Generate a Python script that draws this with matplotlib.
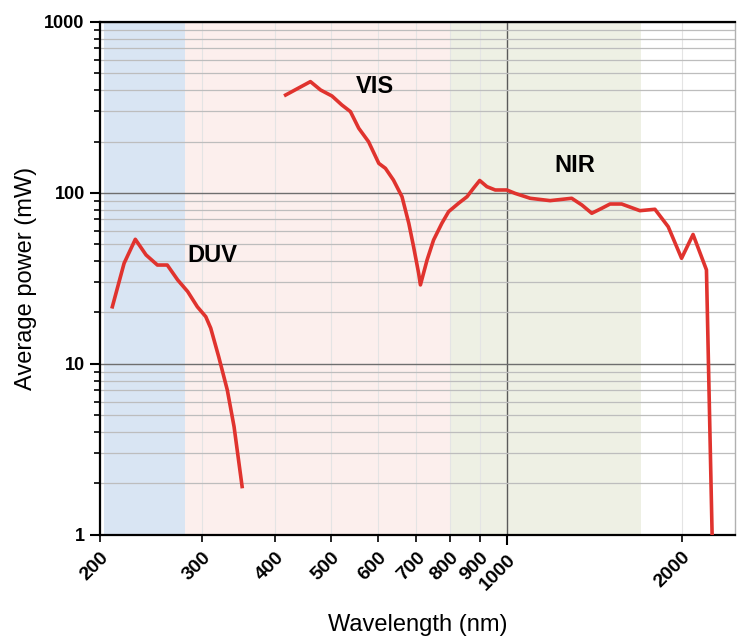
import matplotlib
matplotlib.use('Agg')
import matplotlib.pyplot as plt
from matplotlib.ticker import LogLocator, FuncFormatter, NullFormatter

# Donnees
duv_wl = [210, 220, 230, 240, 251, 261, 272, 283, 294, 304, 310, 320, 331, 340, 351]
duv_p = [21.6, 38.8, 53.6, 43.4, 37.9, 37.9, 31.0, 26.5, 21.6, 18.9, 16.2, 11.0, 7.05, 4.3, 1.92]

vis_nir_wl = [417, 460, 479, 501, 521, 539, 557, 579, 603, 619, 639, 661, 679, 692,
              706, 711, 730, 749, 774, 795, 827, 855, 877, 899, 925, 956, 1001, 1034,
              1098, 1188, 1294, 1347, 1401, 1458, 1506, 1577, 1695, 1799, 1896, 1999,
              2092, 2206, 2256]
vis_nir_p = [374, 448, 400, 369, 327, 299, 239, 199.5, 149, 139.4, 119, 95.1, 66.5, 48.5,
             33.9, 29.0, 40.6, 53.1, 66.5, 77.8, 87.1, 95.1, 106.5, 118.3, 108.9, 104.1, 104.1, 99.5,
             93.1, 90.2, 93.1, 85.1, 76.1, 81.4, 86.2, 86.2, 78.8, 80.3, 63.5, 41.5,
             57.2, 35.5, 1.0]

# Bandes spectrales (debut, fin, couleur)
bandes = [(203, 280, '#d9e5f3'), (280, 800, '#fcefed'), (800, 1700, '#eef0e4')]

# Etiquettes des regions
regions = ['DUV', 'VIS', 'NIR']
regions_wl = [312, 594, 1311]
regions_p = [42.8, 422, 144]

plt.rcParams['font.family'] = ['Liberation Sans', 'DejaVu Sans']

fig = plt.figure(figsize=(7.37, 6.39), dpi=100)
ax = fig.add_axes([0.1357, 0.1628, 0.8616, 0.8028])

# Fonds colores
for debut, fin, couleur in bandes:
    ax.axvspan(debut, fin, color=couleur, lw=0, zorder=0.2)

# Courbes
ax.plot(duv_wl, duv_p, color='#e0332e', lw=2.6, zorder=3)
ax.plot(vis_nir_wl, vis_nir_p, color='#e0332e', lw=2.6, zorder=3)

for nom, x, y in zip(regions, regions_wl, regions_p):
    ax.text(x, y, nom, fontsize=17, fontweight='bold', ha='center', va='center')

# Axes
ax.set_xscale('log')
ax.set_yscale('log')
ax.set_xlim(200, 2470)
ax.set_ylim(1, 1000)

ax.xaxis.set_major_locator(LogLocator(base=10))
ax.xaxis.set_minor_locator(LogLocator(base=10, subs=range(2, 10)))
fmt = FuncFormatter(lambda v, p: f'{v:.0f}')
ax.xaxis.set_major_formatter(fmt)
ax.xaxis.set_minor_formatter(fmt)
ax.yaxis.set_major_locator(LogLocator(base=10))
ax.yaxis.set_minor_locator(LogLocator(base=10, subs=range(2, 10)))
ax.yaxis.set_major_formatter(fmt)
ax.yaxis.set_minor_formatter(NullFormatter())

# Grilles
ax.set_axisbelow(True)
ax.grid(True, which='major', axis='y', color='#6e6e6e', lw=1.0)
ax.grid(True, which='minor', axis='y', color='#bdbdbd', lw=0.9)
ax.grid(True, which='major', axis='x', color='#5a5a5a', lw=1.0)
ax.grid(True, which='minor', axis='x', color='#e4e4e4', lw=0.8)

ax.tick_params(axis='y', which='major', direction='out', length=7, width=1.5,
               labelsize=13, pad=4)
ax.tick_params(axis='x', which='major', direction='out', length=7, width=1.5,
               labelsize=14, pad=5)
ax.tick_params(axis='y', which='minor', direction='out', length=4, width=1.2)
ax.tick_params(axis='x', which='minor', direction='out', length=5, width=1.2,
               labelsize=14, pad=5)

for lab in ax.get_xticklabels(which='both') + ax.get_yticklabels():
    lab.set_fontweight('bold')
for lab in ax.get_xticklabels(which='both'):
    lab.set_rotation(45)
    lab.set_ha('right')
    lab.set_rotation_mode('anchor')

for cote in ['left', 'bottom', 'top']:
    ax.spines[cote].set_linewidth(1.6)
    ax.spines[cote].set_color('black')
ax.spines['right'].set_color('#b0b0b0')
ax.spines['right'].set_linewidth(1.0)

# Titres des axes
ax.set_xlabel('Wavelength (nm)', fontsize=17)
ax.set_ylabel('Average power (mW)', fontsize=17)
ax.xaxis.set_label_coords(0.5, -0.155)
ax.yaxis.set_label_coords(-0.1, 0.5)

fig.savefig('out.png', dpi=100)
